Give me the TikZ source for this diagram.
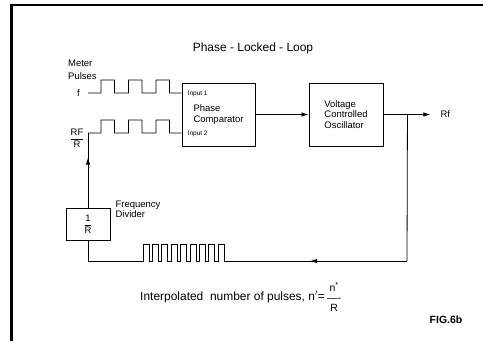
\documentclass[tikz,border=0pt]{standalone}
\usepackage{amsmath}
\usepackage{fontspec}
\setmainfont{Liberation Sans}
\usepackage{tikz}
\usetikzlibrary{arrows.meta, positioning, calc, decorations.markings}

\tikzset{
  blockbox/.style={draw, line width=0.9bp, inner sep=0pt, align=left,
                   font=\fontsize{9.5}{10.5}\selectfont},
  sig/.style={line width=0.8bp, line join=miter},
  lbl/.style={inner sep=0pt, font=\fontsize{9.5}{10.5}\selectfont},
  inlbl/.style={inner sep=0pt, font=\fontsize{6.5}{7}\selectfont},
  sigarrow/.style={-{Latex[length=7bp, width=4.5bp]}},
  markarrow/.style={postaction={decorate},
    decoration={markings, mark=at position #1 with {\arrow{Latex[length=7bp, width=4.5bp]}}}},
}

\begin{document}
\begin{tikzpicture}[x=1bp, y=-1bp]
  \useasboundingbox (0,0) rectangle (483,341);
  % frame
  \draw[line width=2.4bp] (11.5,341) -- (11.5,5) -- (483,5);
  \node[font=\fontsize{12}{14}\selectfont] (title) at (253,48) {Phase - Locked - Loop};

  % blocks
  \node[blockbox, minimum width=73bp, minimum height=63bp] (comp) at (218.5,114.5) {Phase\\Comparator};
  \node[blockbox, minimum width=74bp, minimum height=63bp] (vco) at (346,114.5) {Voltage\\Controlled\\Oscillator};
  \node[blockbox, minimum width=44bp, minimum height=32bp, align=center] (div) at (88,224) {$\dfrac{\text{1}}{\text{R}}$};
  \node[lbl, align=left, anchor=west] (divlbl) at ([xshift=5bp, yshift=-1.5bp]div.north east) {Frequency\\Divider};

  % comparator inputs
  \coordinate (in1) at ([yshift=21.5bp]comp.west);
  \coordinate (in2) at ([yshift=-18.5bp]comp.west);
  \node[inlbl, anchor=west] (in1lbl) at ([xshift=6bp, yshift=-1bp]in1) {Input 1};
  \node[inlbl, anchor=west] (in2lbl) at ([xshift=6bp, yshift=-1bp]in2) {Input 2};

  % meter pulses
  \coordinate (fin) at (88,93);
  \node[lbl, left=8bp of fin] (f) {f};
  \node[lbl, align=left, anchor=west] (meter) at (68,69.5) {Meter\\[2.5bp]Pulses};
  \draw[sig] (fin) foreach \x in {101,128.5,156} { -- (\x,93) -- (\x,80) -- (\x+13.5,80) -- (\x+13.5,93) } -- (in1);

  % divided pulses
  \coordinate (rfr) at (88,133);
  \node[lbl] (rfrlbl) at (77,138) {$\dfrac{\text{RF}}{\text{R}}$};
  \draw[sig, markarrow=0.67] (div.north) -- (rfr);
  \draw[sig] (rfr) foreach \x in {101,128.5,156} { -- (\x,133) -- (\x,120) -- (\x+13.5,120) -- (\x+13.5,133) } -- (in2);

  % oscillator output
  \draw[sig, sigarrow] (comp) -- (vco);
  \coordinate (tap) at ([xshift=24bp]vco.east);
  \draw[sig] (vco) -- (tap);
  \draw[sig, sigarrow] (tap) -- ++(23,0) coordinate (rfout);
  \node[lbl, anchor=west] (rf) at ([xshift=10bp]rfout) {Rf};

  % feedback loop
  \coordinate (loopr) at (407,261);
  \coordinate (loopl) at (div.south |- loopr);
  \draw[sig] (tap) -- (loopr);
  \draw[sig] (div.south) -- (loopl) -- ++(55,0)
    foreach \k in {1,...,9} { -- ++(0,-17) -- ++(6,0) -- ++(0,17) -- ++(3.4,0) } coordinate (trainend);
  \draw[sig, markarrow=0.54] (loopr) -- (trainend);

  % count text
  \node[lbl, font=\fontsize{12}{14}\selectfont, anchor=east] (interp) at (325,297) {Interpolated\ \ number of pulses, n$'$=};
  \node[lbl, align=center, font=\fontsize{10.5}{10.5}\selectfont, right=2bp of interp] (frac) {n\textsuperscript{*}\\----\\R};
  \node[font=\bfseries\fontsize{10.5}{12}\selectfont, inner sep=0pt] (fig) at (446,320) {FIG.6b};
\end{tikzpicture}
\end{document}
